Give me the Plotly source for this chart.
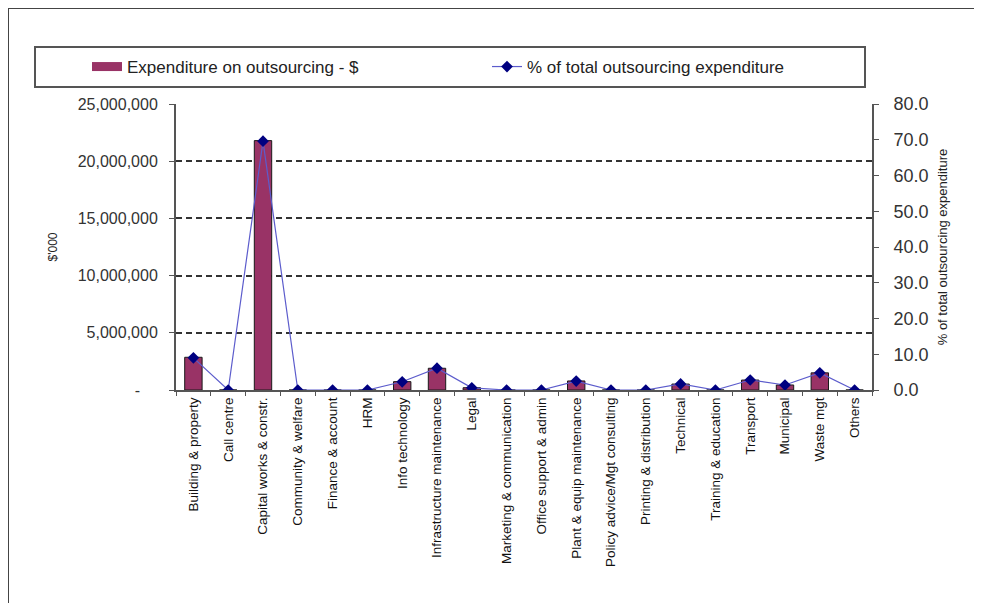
import plotly.graph_objects as go

categories = ["Building & property", "Call centre", "Capital works & constr.", "Community & welfare",
              "Finance & account", "HRM", "Info technology", "Infrastructure maintenance", "Legal",
              "Marketing & communication", "Office support & admin", "Plant & equip maintenance",
              "Policy advice/Mgt consulting", "Printing & distribution", "Technical",
              "Training & education", "Transport", "Municipal", "Waste mgt", "Others"]
expenditure = [2860000, 0, 21800000, 0, 0, 0, 730000, 1900000, 200000, 0, 0, 790000,
               0, 0, 520000, 0, 870000, 440000, 1500000, 0]
pct_total = [9.0, 0.0, 69.6, 0.0, 0.0, 0.0, 2.3, 6.1, 0.6, 0.0, 0.0, 2.5,
             0.0, 0.0, 1.7, 0.0, 2.8, 1.4, 4.8, 0.0]
left_ticks = [0, 5000000, 10000000, 15000000, 20000000, 25000000]
left_tick_text = ["-\u00a0\u00a0\u00a0\u00a0", "5,000,000", "10,000,000", "15,000,000",
                  "20,000,000", "25,000,000"]
right_ticks = [0, 10, 20, 30, 40, 50, 60, 70, 80]

OFF = 8  # page body margin
W, H = 974, 595
ML, MT = 176 - OFF, 104 - OFF
PW, PH = 696, 286
MR, MB = W - ML - PW, H - MT - PH

def px(x):  # page pixel -> paper x
    return (x - OFF - ML) / PW

def py(y):  # page pixel -> paper y
    return (H - MB - (y - OFF)) / PH

BAR_COLOR = "#993366"

fig = go.Figure()
fig.add_trace(go.Bar(
    x=categories, y=expenditure, name="Expenditure on outsourcing - $",
    marker=dict(color=BAR_COLOR, line=dict(color="#1a1a1a", width=1)),
    yaxis="y", showlegend=False,
))
# legend-only entry to get a wide rectangular swatch like the original
fig.add_trace(go.Scatter(
    x=[None], y=[None], name="Expenditure on outsourcing - $",
    mode="lines", line=dict(color=BAR_COLOR, width=9), yaxis="y", showlegend=True,
))
fig.add_trace(go.Scatter(
    x=categories, y=pct_total, name="% of total outsourcing expenditure",
    mode="lines+markers",
    line=dict(color="#5c5ccc", width=1.2),
    marker=dict(symbol="diamond", size=9, color="#000080"),
    yaxis="y2",
))

font_family = "Liberation Sans, Arial, sans-serif"
fig.update_layout(
    width=W, height=H,
    margin=dict(l=ML, r=MR, t=MT, b=MB),
    paper_bgcolor="white", plot_bgcolor="white",
    font=dict(family=font_family, color="#222222"),
    bargap=0.5,
    showlegend=True,
    legend=dict(
        orientation="h", x=px(87), y=py(67), xanchor="left", yanchor="middle",
        borderwidth=0, bgcolor="rgba(0,0,0,0)",
        font=dict(size=17, color="#222222"),
        entrywidth=355, entrywidthmode="pixels",
    ),
    xaxis=dict(
        tickangle=-90, tickfont=dict(size=13.5, color="#111111"),
        showline=True, linecolor="#555555", linewidth=2,
        ticks="outside", ticklen=4, tickcolor="#555555", tickson="boundaries",
        showgrid=False, range=[-0.5, len(categories) - 0.5],
    ),
    yaxis=dict(
        range=[0, 25000000], tickvals=left_ticks, ticktext=left_tick_text,
        tickfont=dict(size=16, color="#333333"), ticklabelstandoff=8,
        showline=True, linecolor="#555555", linewidth=2,
        ticks="outside", ticklen=5, tickcolor="#555555",
        showgrid=True, gridcolor="#333333", griddash="6px,4px", gridwidth=1.5,
        zeroline=False,
        title=dict(text="$'000", font=dict(size=12, color="#222222"), standoff=18),
    ),
    yaxis2=dict(
        overlaying="y", side="right", range=[0, 80], tickvals=right_ticks,
        tickformat=".1f", tickfont=dict(size=18, color="#333333"), ticklabelstandoff=11,
        showline=True, linecolor="#555555", linewidth=2,
        ticks="outside", ticklen=5, tickcolor="#555555",
        showgrid=False, zeroline=False,
        title=dict(text="% of total outsourcing expenditure", font=dict(size=13, color="#222222"),
                   standoff=10),
    ),
    shapes=[
        dict(type="line", xref="paper", yref="paper", x0=px(8), x1=px(990), y0=py(8), y1=py(8),
             line=dict(color="#444444", width=2)),
        dict(type="line", xref="paper", yref="paper", x0=px(8), x1=px(8), y0=py(8), y1=py(610),
             line=dict(color="#444444", width=2)),
        dict(type="rect", xref="paper", yref="paper", x0=px(35), x1=px(865), y0=py(47), y1=py(87),
             line=dict(color="#555555", width=2), fillcolor="rgba(0,0,0,0)"),
    ],
)

fig.write_html("out.html")
